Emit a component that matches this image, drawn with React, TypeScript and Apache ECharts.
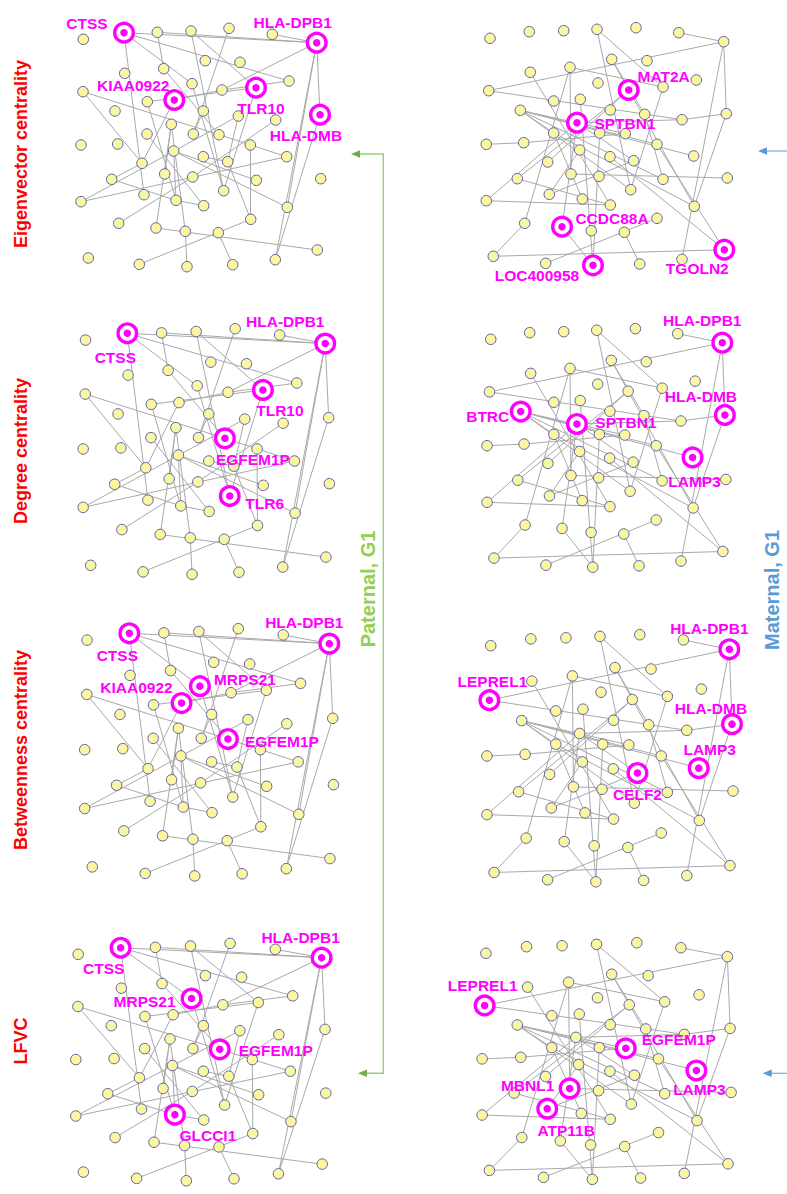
import React, { useEffect, useRef } from "react";
import * as echarts from "echarts";

// ---------- data ----------
const measures = [
  "Eigenvector centrality",
  "Degree centrality",
  "Betweenness centrality",
  "LFVC",
];

// Paternal G1 network: node coordinates (layout units) and links (1-based node ids)
const paternalNodes: [number, number][] = [
  [124, 32.7], [83.3, 39.3], [157.3, 32.3], [191, 31], [229, 28.3], [272.3, 34.3], [316.7, 42.7],
  [205.3, 60.7], [240, 62.3], [124.7, 73.3], [163.7, 68.7], [289, 81], [192, 83.7], [256, 87.7],
  [222, 90], [83, 91.7], [174.3, 100], [147.3, 101.7], [115, 111], [203.3, 111], [238.3, 116],
  [275.7, 120], [320, 114.7], [171.3, 124.3], [147, 134], [193.3, 134], [219, 134.7], [81, 145],
  [117.7, 144], [250.3, 145], [173.7, 151], [286.7, 156.7], [203.3, 156.7], [227.7, 161.7],
  [142, 163.3], [164.7, 174], [192.7, 177], [111.7, 179.3], [256.3, 180.3], [320.7, 178.7],
  [223.7, 190.7], [144, 194.7], [176, 200.3], [81, 201.7], [203.7, 205.7], [287.3, 207.3],
  [118.7, 223.3], [250.7, 219.3], [156, 228], [185.3, 231.3], [218.3, 232.7], [317.3, 250],
  [88.3, 258], [275.3, 259.7], [139.3, 264.3], [187, 266.7], [232.7, 264.7],
];
const paternalLinks: [number, number][] = [
  [1, 7], [3, 7], [6, 7], [1, 12], [1, 13], [1, 42], [3, 11], [11, 27], [4, 41], [4, 14],
  [5, 26], [7, 15], [7, 23], [7, 54], [7, 46], [23, 54], [18, 14], [17, 15], [15, 12], [14, 41],
  [13, 41], [16, 27], [27, 32], [16, 35], [17, 35], [18, 43], [24, 50], [24, 49], [25, 45],
  [31, 46], [31, 39], [31, 43], [44, 21], [44, 32], [38, 43], [38, 35], [43, 45], [47, 37],
  [49, 52], [50, 56], [51, 57], [55, 48], [48, 34], [22, 37], [33, 34], [36, 24], [20, 26],
  [21, 34], [30, 48],
];
const paternalGenes: Record<number, string> = {
  1: "CTSS", 7: "HLA-DPB1", 13: "MRPS21", 14: "TLR10", 17: "KIAA0922",
  23: "HLA-DMB", 27: "EGFEM1P", 41: "TLR6", 43: "GLCCI1",
};
const paternalTop: string[][] = [
  ["CTSS", "HLA-DPB1", "KIAA0922", "TLR10", "HLA-DMB"],
  ["CTSS", "HLA-DPB1", "TLR10", "EGFEM1P", "TLR6"],
  ["CTSS", "HLA-DPB1", "MRPS21", "KIAA0922", "EGFEM1P"],
  ["CTSS", "HLA-DPB1", "MRPS21", "EGFEM1P", "GLCCI1"],
];

// Maternal G1 network
const maternalNodes: [number, number][] = [
  [490, 38.3], [529.3, 31.7], [563.7, 30.7], [597, 29.3], [636, 27.7], [678.7, 32.7], [723.7, 41.7],
  [611.7, 59.3], [647, 60.7], [530.3, 72.3], [570, 67.3], [628.7, 90], [696.3, 80], [488.7, 90.7],
  [598, 83], [663, 87], [553.7, 101], [580.3, 99.3], [520.3, 110.3], [610.3, 110], [577, 122.7],
  [644.7, 114.3], [682, 119.7], [726.3, 113.7], [553.7, 133], [599.7, 133], [625.3, 133.7],
  [486.3, 144.3], [523.7, 142.7], [657, 144.3], [579.7, 150], [693.7, 156], [547.7, 162],
  [610, 156.7], [633.7, 160.7], [517.3, 178.7], [571, 174], [599, 176.3], [663, 179.3],
  [727.3, 178], [630.7, 189.7], [486.3, 200.7], [549.3, 194.3], [582.3, 199], [610.3, 205],
  [694.3, 206.3], [524.7, 223.3], [562, 226.7], [591.3, 230.7], [624.3, 232.3], [657, 218.3],
  [493.3, 256.3], [545.7, 263.3], [593, 265.3], [639.7, 264], [682, 259.3], [724.3, 249.7],
];
const maternalLinks: [number, number][] = [
  [6, 7], [14, 7], [7, 24], [7, 56], [24, 46], [23, 24], [21, 23], [4, 41], [4, 16], [8, 22],
  [10, 45], [14, 23], [11, 47], [11, 16], [19, 32], [19, 30], [19, 39], [19, 41], [19, 25],
  [28, 29], [29, 27], [25, 46], [25, 44], [36, 12], [36, 45], [42, 45], [42, 21], [52, 57],
  [52, 47], [53, 51], [50, 55], [48, 54], [18, 54], [21, 48], [57, 30], [16, 41], [12, 46],
  [12, 33], [26, 54], [37, 40], [43, 35], [8, 12], [57, 34], [21, 35], [11, 37], [19, 27],
  [43, 31], [22, 39],
];
const maternalGenes: Record<number, string> = {
  7: "HLA-DPB1", 12: "MAT2A", 14: "LEPREL1", 19: "BTRC", 21: "SPTBN1", 24: "HLA-DMB",
  27: "EGFEM1P", 32: "LAMP3", 35: "CELF2", 37: "MBNL1", 43: "ATP11B", 48: "CCDC88A",
  54: "LOC400958", 57: "TGOLN2",
};
const maternalTop: string[][] = [
  ["MAT2A", "SPTBN1", "CCDC88A", "LOC400958", "TGOLN2"],
  ["HLA-DPB1", "BTRC", "SPTBN1", "HLA-DMB", "LAMP3"],
  ["HLA-DPB1", "LEPREL1", "HLA-DMB", "LAMP3", "CELF2"],
  ["LEPREL1", "EGFEM1P", "LAMP3", "MBNL1", "ATP11B"],
];

// ---------- layout ----------
const FONT = "'Liberation Sans', Arial, Helvetica, sans-serif";
const MAGENTA = "#ff00ff";
const DOT = 7.5;

type Box = { left: number; top: number; width: number; height: number };
const paternalDomain = { x: [60, 340], y: [20, 280] };
const maternalDomain = { x: [470, 745], y: [15, 280] };
const paternalBoxes: Box[] = [
  { left: 60, top: 20, width: 280, height: 260 },
  { left: 61.6, top: 320.2, width: 287.6, height: 267.8 },
  { left: 62.9, top: 620.1, width: 290.6, height: 269.6 },
  { left: 53.9, top: 935.1, width: 292, height: 269.4 },
];
const maternalBoxes: Box[] = [
  { left: 470, top: 15, width: 275, height: 265 },
  { left: 470.9, top: 315.9, width: 272.5, height: 266 },
  { left: 470.3, top: 621.5, width: 280.8, height: 275.6 },
  { left: 465.3, top: 930.1, width: 284.1, height: 275.1 },
];
// label placement (offset of the text centre from its node)
const paternalLabelShift: Record<string, [number, number]>[] = [
  { CTSS: [-37, -9], "HLA-DPB1": [-24, -20], KIAA0922: [-41, -15], TLR10: [5, 21], "HLA-DMB": [-14, 21] },
  { CTSS: [-12, 24], "HLA-DPB1": [-40, -22], TLR10: [17, 21], EGFEM1P: [28, 21], TLR6: [35, 7] },
  { CTSS: [-12, 22], "HLA-DPB1": [-25, -21], MRPS21: [45, -7], KIAA0922: [-45, -16], EGFEM1P: [54, 2] },
  { CTSS: [-17, 21], "HLA-DPB1": [-21, -20], MRPS21: [-47, 3], EGFEM1P: [56, 1], GLCCI1: [33, 21] },
];
const maternalLabelShift: Record<string, [number, number]>[] = [
  { MAT2A: [35, -14], SPTBN1: [48, 1], CCDC88A: [50, -8], LOC400958: [-56, 10], TGOLN2: [-27, 19] },
  { "HLA-DPB1": [-20, -22], BTRC: [-33, 5], SPTBN1: [49, -2], "HLA-DMB": [-24, -18], LAMP3: [2, 24] },
  { "HLA-DPB1": [-20, -21], LEPREL1: [3, -19], "HLA-DMB": [-21, -16], LAMP3: [11, -19], CELF2: [0, 21] },
  { LEPREL1: [-2, -20], EGFEM1P: [53, -9], LAMP3: [3, 19], MBNL1: [-42, -3], ATP11B: [19, 22] },
];
const measureLabelY = [154, 451, 750, 1041];

function buildOption() {
  const grid: any[] = [];
  const xAxis: any[] = [];
  const yAxis: any[] = [];
  const series: any[] = [];

  const addPanel = (
    box: Box,
    domain: { x: number[]; y: number[] },
    nodes: [number, number][],
    links: [number, number][],
    genes: Record<number, string>,
    top: string[],
    shift: Record<string, [number, number]>
  ) => {
    const gi = grid.length;
    grid.push({ ...box });
    xAxis.push({ type: "value", gridIndex: gi, min: domain.x[0], max: domain.x[1], show: false });
    yAxis.push({ type: "value", gridIndex: gi, min: domain.y[0], max: domain.y[1], inverse: true, show: false });
    const idOf = (name: string) =>
      Number(Object.keys(genes).find((k) => genes[Number(k)] === name));

    series.push({
      type: "lines",
      coordinateSystem: "cartesian2d",
      xAxisIndex: gi,
      yAxisIndex: gi,
      silent: true,
      z: 1,
      lineStyle: { color: "#a9a9a9", width: 1, opacity: 1, curveness: 0 },
      data: links.map(([a, b]) => ({ coords: [nodes[a - 1], nodes[b - 1]] })),
    });
    series.push({
      type: "scatter",
      xAxisIndex: gi,
      yAxisIndex: gi,
      silent: true,
      z: 2,
      symbol: "circle",
      symbolSize: 10.5,
      itemStyle: { color: "#fbf7a0", borderColor: "#5a63a8", borderWidth: 1, opacity: 1 },
      data: nodes,
    });
    const hubs = top.map((name) => ({ name, value: nodes[idOf(name) - 1] }));
    series.push({
      type: "scatter",
      xAxisIndex: gi,
      yAxisIndex: gi,
      silent: true,
      z: 3,
      symbol: "circle",
      symbolSize: 18.6,
      itemStyle: { color: "#ffffff", borderColor: MAGENTA, borderWidth: 3.4, opacity: 1 },
      data: hubs,
    });
    series.push({
      type: "scatter",
      xAxisIndex: gi,
      yAxisIndex: gi,
      silent: true,
      z: 4,
      symbol: "circle",
      symbolSize: DOT,
      itemStyle: { color: MAGENTA, opacity: 1 },
      label: {
        show: true,
        formatter: "{b}",
        color: MAGENTA,
        fontSize: 15.5,
        fontWeight: "bold",
        fontFamily: FONT,
        textBorderWidth: 0,
        align: "center",
        verticalAlign: "middle",
      },
      labelLayout: { hideOverlap: false },
      data: hubs.map((h) => {
        const [dx, dy] = shift[h.name];
        return {
          ...h,
          label: {
            show: true,
            position: [DOT / 2 + dx, DOT / 2 + dy],
            align: "center",
            verticalAlign: "middle",
          },
        };
      }),
    });
  };

  measures.forEach((_, i) => {
    addPanel(paternalBoxes[i], paternalDomain, paternalNodes, paternalLinks, paternalGenes, paternalTop[i], paternalLabelShift[i]);
    addPanel(maternalBoxes[i], maternalDomain, maternalNodes, maternalLinks, maternalGenes, maternalTop[i], maternalLabelShift[i]);
  });

  const vText = (text: string, x: number, y: number, color: string, size: number) => ({
    type: "text",
    x,
    y,
    rotation: Math.PI / 2,
    silent: true,
    style: {
      text,
      fill: color,
      font: `bold ${size}px ${FONT}`,
      align: "center",
      verticalAlign: "middle",
    },
  });

  const graphic: any[] = [
    ...measures.map((m, i) => vText(m, 20.7, measureLabelY[i], "#ff0000", 18)),
    vText("Paternal, G1", 367.5, 589, "#92d050", 20),
    vText("Maternal, G1", 772, 590, "#5b9bd5", 20),
    {
      type: "polyline",
      silent: true,
      shape: { points: [[359, 154], [383.3, 154], [383.3, 1073.3], [366, 1073.3]] },
      style: { stroke: "#9ccc7c", lineWidth: 1.4, fill: "none" },
    },
    {
      type: "polygon",
      silent: true,
      shape: { points: [[351, 154], [360, 150.3], [360, 157.7]] },
      style: { fill: "#70ad47" },
    },
    {
      type: "polygon",
      silent: true,
      shape: { points: [[358, 1073.3], [367, 1069.6], [367, 1077]] },
      style: { fill: "#70ad47" },
    },
    {
      type: "line",
      silent: true,
      shape: { x1: 766, y1: 151, x2: 787, y2: 151 },
      style: { stroke: "#8fb8e0", lineWidth: 1.4 },
    },
    {
      type: "polygon",
      silent: true,
      shape: { points: [[758, 151], [767, 147.3], [767, 154.7]] },
      style: { fill: "#5b9bd5" },
    },
    {
      type: "line",
      silent: true,
      shape: { x1: 771, y1: 1073.3, x2: 787, y2: 1073.3 },
      style: { stroke: "#8fb8e0", lineWidth: 1.4 },
    },
    {
      type: "polygon",
      silent: true,
      shape: { points: [[762.7, 1073.3], [771.7, 1069.6], [771.7, 1077]] },
      style: { fill: "#5b9bd5" },
    },
  ];

  return {
    animation: false,
    backgroundColor: "#ffffff",
    grid,
    xAxis,
    yAxis,
    series,
    graphic,
  };
}

export default function App() {
  const ref = useRef<HTMLDivElement>(null);
  useEffect(() => {
    document.body.style.margin = "0";
    const chart = echarts.init(ref.current!, undefined, { renderer: "svg" });
    chart.setOption(buildOption());
    return () => chart.dispose();
  }, []);
  return (
    <div
      ref={ref}
      style={{ position: "absolute", left: 0, top: 0, width: 787, height: 1194, background: "#fff" }}
    />
  );
}
